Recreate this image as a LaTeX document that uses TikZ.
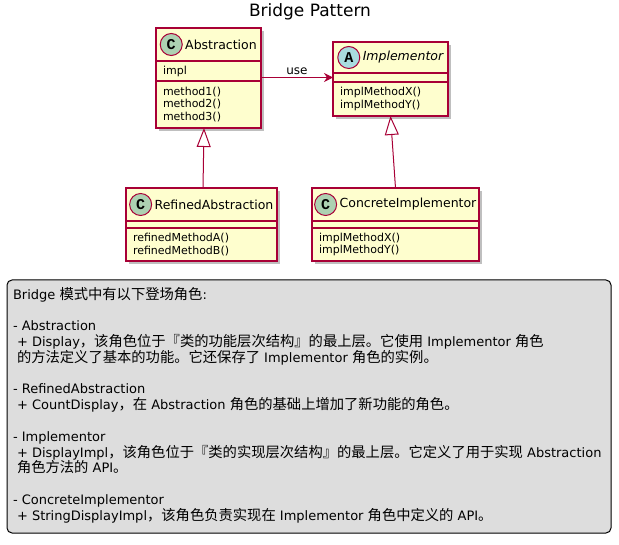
\documentclass[tikz,border=0pt]{standalone}
\usepackage{fontspec}
\setmainfont{DejaVu Sans}
\newfontfamily\cjk[Scale=1.1]{Noto Sans CJK SC}
\newfontfamily\spotfont{Liberation Mono}
\newcommand{\zh}[1]{{\cjk #1}}
\usetikzlibrary{positioning,arrows.meta,shadows}
\definecolor{clsfill}{HTML}{FEFECE}
\definecolor{clsborder}{HTML}{A80036}
\definecolor{spotc}{HTML}{ADD1B2}
\definecolor{spota}{HTML}{A9DCDF}
\definecolor{legendfill}{HTML}{DDDDDD}
\setlength{\lineskiplimit}{-20pt}

\begin{document}
\begin{tikzpicture}[x=1pt, y=-1pt,
    every node/.style={inner sep=0pt, outer sep=0pt},
    clsbox/.style={draw=clsborder, fill=clsfill, line width=1.2pt,
        drop shadow={shadow xshift=3pt, shadow yshift=-3pt, fill=black, opacity=0.25}},
    clshead/.style={clsbox},
    clsname/.style={font=\fontsize{12.5}{15}\selectfont},
    clsabstract/.style={font=\fontsize{12.5}{15}\selectfont\itshape},
    clsmember/.style={clsbox, inner xsep=7pt, inner ysep=2pt, align=left,
        font=\fontsize{11}{12.7}\selectfont},
    spot/.style={circle, draw=clsborder, line width=1pt, minimum size=22pt,
        font=\spotfont\bfseries\fontsize{15}{15}\selectfont},
    uses/.style={draw=clsborder, line width=1pt, -{Stealth[length=9pt, width=9pt, inset=3pt]}},
    extends/.style={draw=clsborder, line width=1pt, -{Triangle[open, length=19pt, width=14pt]}},
    legend/.style={draw=black, fill=legendfill, line width=1pt, rounded corners=5pt},
    legendtext/.style={align=left, font=\fontsize{13}{15.8}\selectfont}]

    \useasboundingbox (0,0) rectangle (619,545);

    \node[font=\fontsize{17}{20}\selectfont] (title) at (310,12) {Bridge Pattern};

    % Abstraction
    \node[clshead, minimum width=105pt, minimum height=33pt] (absh) at (208.5,44.5) {};
    \node[clsname] (absn) at ([xshift=12.5pt]absh.center) {Abstraction};
    \node[spot, fill=spotc, left=3pt of absn] (absc) {C};
    \node[clsmember, text width=91pt, minimum height=20pt, below=0pt of absh] (absa) {impl};
    \node[clsmember, text width=91pt, minimum height=47pt, below=0pt of absa] (absm) {method1()\\method2()\\method3()};

    % Implementor
    \node[clshead, minimum width=115pt, minimum height=31pt] (imph) at (390.5,57.5) {};
    \node[clsabstract] (impn) at ([xshift=12.5pt]imph.center) {Implementor};
    \node[spot, fill=spota, left=3pt of impn] (impc) {A};
    \node[clsmember, text width=101pt, minimum height=9pt, below=0pt of imph] (impa) {};
    \node[clsmember, text width=101pt, minimum height=34pt, below=0pt of impa] (impm) {implMethodX()\\implMethodY()};

    % RefinedAbstraction
    \node[clshead, minimum width=151pt, minimum height=33pt] (refh) at (201.5,204.5) {};
    \node[clsname] (refn) at ([xshift=12.5pt]refh.center) {RefinedAbstraction};
    \node[spot, fill=spotc, left=3pt of refn] (refc) {C};
    \node[clsmember, text width=137pt, minimum height=7pt, below=0pt of refh] (refa) {};
    \node[clsmember, text width=137pt, minimum height=33pt, below=0pt of refa] (refm) {refinedMethodA()\\refinedMethodB()};

    % ConcreteImplementor
    \node[clshead, minimum width=167pt, minimum height=33pt] (conh) at (395.5,204.5) {};
    \node[clsname] (conn) at ([xshift=12.5pt]conh.center) {ConcreteImplementor};
    \node[spot, fill=spotc, left=3pt of conn] (conc) {C};
    \node[clsmember, text width=153pt, minimum height=7pt, below=0pt of conh] (cona) {};
    \node[clsmember, text width=153pt, minimum height=33pt, below=0pt of cona] (conm) {implMethodX()\\implMethodY()};

    % relations
    \draw[uses] (absa.east |- impa.west) -- node[above=3pt, font=\fontsize{12}{14}\selectfont] {use} (impa.west);
    \draw[extends] ([xshift=1.5pt]refh.north) -- ([xshift=-4.5pt]absm.south);
    \draw[extends] (conh.north) -- (impm.south);

    % legend
    \node[legend, minimum width=604pt, minimum height=253pt, anchor=north west] (legend) at (7,280) {};
    \node[legendtext, anchor=north west] (legendtxt) at ([xshift=6pt, yshift=-7pt]legend.north west) {%
        Bridge \zh{模式中有以下登场角色}:\\[15.8pt]
        - Abstraction\\
        \hspace*{4pt}+ Display\zh{，该角色位于『类的功能层次结构』的最上层。它使用} Implementor \zh{角色}\\
        \hspace*{4pt}\zh{的方法定义了基本的功能。它还保存了} Implementor \zh{角色的实例。}\\[15.8pt]
        - RefinedAbstraction\\
        \hspace*{4pt}+ CountDisplay\zh{，在} Abstraction \zh{角色的基础上增加了新功能的角色。}\\[15.8pt]
        - Implementor\\
        \hspace*{4pt}+ DisplayImpl\zh{，该角色位于『类的实现层次结构』的最上层。它定义了用于实现} Abstraction\\
        \hspace*{4pt}\zh{角色方法的} API\zh{。}\\[15.8pt]
        - ConcreteImplementor\\
        \hspace*{4pt}+ StringDisplayImpl\zh{，该角色负责实现在} Implementor \zh{角色中定义的} API\zh{。}};
\end{tikzpicture}
\end{document}
